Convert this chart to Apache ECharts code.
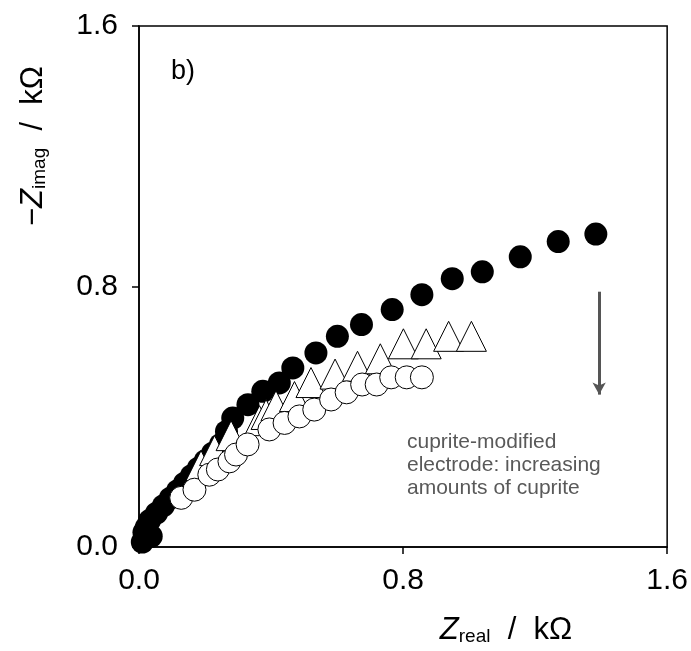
<!DOCTYPE html>
<html>
<head>
<meta charset="utf-8">
<script src="https://cdn.jsdelivr.net/npm/echarts@6/dist/echarts.min.js"></script>
<style>html,body{margin:0;padding:0;background:#fff;}#c{width:691px;height:651px;}</style>
</head>
<body>
<div id="c"></div>
<script>
// Axis ticks
const xTicks = [0.0, 0.8, 1.6];
const yTicks = [0.0, 0.8, 1.6];

// Series 1: filled circles
const filledX = [0.010, 0.015, 0.022, 0.037, 0.032, 0.053, 0.074, 0.095, 0.117, 0.138, 0.159, 0.180, 0.201, 0.223, 0.247, 0.265, 0.284, 0.330, 0.375, 0.425, 0.466, 0.536, 0.601, 0.674, 0.767, 0.857, 0.949, 1.040, 1.155, 1.270, 1.384];
const filledY = [0.015, 0.045, 0.060, 0.033, 0.081, 0.104, 0.127, 0.150, 0.173, 0.196, 0.219, 0.242, 0.265, 0.288, 0.315, 0.355, 0.396, 0.437, 0.478, 0.504, 0.550, 0.596, 0.647, 0.683, 0.729, 0.775, 0.824, 0.845, 0.891, 0.938, 0.961];

// Series 2: open triangles
const triX = [0.188, 0.229, 0.279, 0.365, 0.385, 0.415, 0.471, 0.521, 0.594, 0.662, 0.731, 0.801, 0.870, 0.938, 1.007];
const triY = [0.250, 0.296, 0.342, 0.388, 0.407, 0.434, 0.462, 0.505, 0.531, 0.555, 0.578, 0.624, 0.624, 0.647, 0.647];

// Series 3: open circles
const openX = [0.128, 0.168, 0.213, 0.239, 0.274, 0.294, 0.329, 0.395, 0.441, 0.486, 0.531, 0.582, 0.629, 0.676, 0.720, 0.764, 0.811, 0.857];
const openY = [0.151, 0.176, 0.222, 0.238, 0.263, 0.284, 0.315, 0.361, 0.381, 0.401, 0.422, 0.453, 0.475, 0.499, 0.499, 0.521, 0.521, 0.521];

// Arrow annotation (data coords)
const arrowFrom = [1.394, 0.784];
const arrowTo = [1.394, 0.468];
const noteLines = ['cuprite-modified', 'electrode: increasing', 'amounts of cuprite'];

const zip = (a, b) => a.map((v, i) => [v, b[i]]);
const FONT = '"Liberation Sans", Arial, sans-serif';

const chart = echarts.init(document.getElementById('c'), null, {renderer: 'canvas'});
const titleRich = {
  z: {fontSize: 31, fontStyle: 'italic', fontFamily: FONT, fill: '#000', lineHeight: 34, verticalAlign: 'bottom'},
  s: {fontSize: 19, fontFamily: FONT, fill: '#000', lineHeight: 18, verticalAlign: 'bottom'},
  n: {fontSize: 31, fontFamily: FONT, fill: '#000', lineHeight: 34, verticalAlign: 'bottom'}
};
chart.setOption({
  animation: false,
  backgroundColor: '#fff',
  grid: {left: 139, right: 23, top: 26, bottom: 104, show: true, borderColor: '#000', borderWidth: 1.5, backgroundColor: 'transparent'},
  xAxis: {
    type: 'value', min: xTicks[0], max: xTicks[xTicks.length - 1], interval: 0.8,
    axisLine: {show: true, onZero: false, lineStyle: {color: '#000', width: 1.5}},
    axisTick: {show: true, inside: false, length: 7, lineStyle: {color: '#000', width: 1.5}},
    axisLabel: {margin: 19, color: '#000', fontSize: 30, fontFamily: FONT, formatter: v => v.toFixed(1)},
    splitLine: {show: false}
  },
  yAxis: {
    type: 'value', min: yTicks[0], max: yTicks[yTicks.length - 1], interval: 0.8,
    axisLine: {show: true, onZero: false, lineStyle: {color: '#000', width: 1.5}},
    axisTick: {show: true, inside: false, length: 7, lineStyle: {color: '#000', width: 1.5}},
    axisLabel: {margin: 21, color: '#000', fontSize: 30, fontFamily: FONT, formatter: v => v.toFixed(1)},
    splitLine: {show: false}
  },
  series: [
    {
      type: 'scatter', name: 'filled', data: zip(filledX, filledY), symbol: 'circle', symbolSize: 23,
      itemStyle: {color: '#000', borderColor: '#000', borderWidth: 0, opacity: 1}, z: 2,
      emphasis: {disabled: true},
      markLine: {
        silent: true, symbol: ['none', 'arrow'], symbolSize: [10, 12], animation: false,
        lineStyle: {color: '#555', width: 3, type: 'solid', opacity: 1}, label: {show: false},
        data: [[{coord: arrowFrom}, {coord: arrowTo}]]
      }
    },
    {
      type: 'scatter', name: 'tri', data: zip(triX, triY), symbol: 'triangle', symbolSize: 30,
      itemStyle: {color: '#fff', borderColor: '#000', borderWidth: 1, opacity: 1}, z: 3,
      emphasis: {disabled: true}
    },
    {
      type: 'scatter', name: 'open', data: zip(openX, openY), symbol: 'circle', symbolSize: 23,
      itemStyle: {color: '#fff', borderColor: '#000', borderWidth: 1, opacity: 1}, z: 4,
      emphasis: {disabled: true}
    }
  ],
  graphic: [
    {type: 'text', left: 171, top: 58, style: {text: 'b)', fontSize: 27, fontFamily: FONT, fill: '#000'}},
    {type: 'text', left: 407, top: 431, style: {text: noteLines.join('\n'), fontSize: 21, lineHeight: 23, fontFamily: FONT, fill: '#595959'}},
    {type: 'text', x: 506, y: 629, style: {
      text: '{z|Z}{s|real}{n|  /  kΩ}', align: 'center', verticalAlign: 'middle', rich: titleRich
    }},
    {type: 'text', x: 32, y: 146, rotation: Math.PI / 2, style: {
      text: '{n|−}{z|Z}{s|imag}{n|  /  kΩ}', align: 'center', verticalAlign: 'middle', rich: titleRich
    }}
  ]
});
</script>
</body>
</html>
